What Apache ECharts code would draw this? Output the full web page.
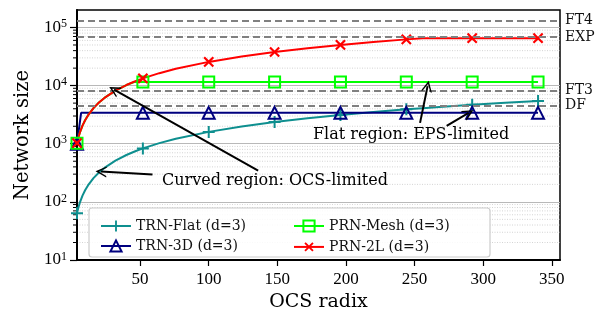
<!DOCTYPE html>
<html>
<head>
<meta charset="utf-8">
<script src="https://cdn.jsdelivr.net/npm/echarts@6/dist/echarts.min.js"></script>
<style>html,body{margin:0;padding:0;background:#fff}#chart{width:605px;height:318px}</style>
</head>
<body>
<div id="chart"></div>
<script>
// radix points for the curves
const radix = [4, 5, 6, 8, 10, 12, 16, 20, 24, 32, 40, 46, 52, 64, 76, 100, 124, 148, 172, 196, 220, 244, 256, 268, 292, 316, 340];
const trnFlat = [64, 80, 96, 128, 160, 192, 256, 320, 384, 512, 640, 736, 832, 1024, 1216, 1600, 1984, 2368, 2752, 3136, 3520, 3904, 4096, 4288, 4672, 5056, 5440];
const prnMesh = [1024, 1280, 1536, 2048, 2560, 3072, 4096, 5120, 6144, 8192, 10240, 11600, 11600, 11600, 11600, 11600, 11600, 11600, 11600, 11600, 11600, 11600, 11600, 11600, 11600, 11600, 11600];
const prn2L = [1024, 1280, 1536, 2048, 2560, 3072, 4096, 5120, 6144, 8192, 10240, 11776, 13312, 16384, 19456, 25600, 31744, 37888, 44032, 50176, 56320, 62464, 65536, 65536, 65536, 65536, 65536];
const trn3dRadix = [4, 7, 52, 100, 148, 196, 244, 292, 340];
const trn3d = [1000, 3400, 3400, 3400, 3400, 3400, 3400, 3400, 3400];
const markerRadix = [4, 52, 100, 148, 196, 244, 292, 340];

const refNames = ['FT4', 'EXP', 'FT3', 'DF'];
const refValues = [131072, 68000, 8192, 4500];

const xTicks = [50, 100, 150, 200, 250, 300, 350];
const yTicks = [10, 100, 1000, 10000, 100000];
const xMin = 4, xMax = 356, yMin = 10, yMax = 200000;

const FONT = '"DejaVu Serif", serif';
const NUMFONT = '"Liberation Serif", serif';
const plusPath = 'path://M5,0h2v5h5v2h-5v5h-2v-5h-5v-2h5z';
const arrowPath = 'path://M0,12L6,0L12,12L10.4,12L6,3.6L1.6,12Z';

// minor log grid values 2..9 per decade
const minorValues = [];
yTicks.forEach(function (d) {
  for (let k = 2; k <= 9; k++) {
    if (d * k < yMax) minorValues.push(d * k);
  }
});

function pts(xs, ys) {
  return xs.map(function (x, i) {
    const item = { value: [x, ys[i]] };
    if (markerRadix.indexOf(x) < 0) item.symbol = 'none';
    return item;
  });
}

function arrow(from, to) {
  return [{ coord: from, symbol: 'none' }, { coord: to, symbol: arrowPath }];
}

const chart = echarts.init(document.getElementById('chart'));

const option = {
  animation: false,
  backgroundColor: '#fff',
  textStyle: { fontFamily: FONT },
  grid: { left: 77, right: 45, top: 10, bottom: 58, show: true, borderColor: '#000', borderWidth: 1.5, backgroundColor: 'transparent' },
  xAxis: {
    type: 'value', min: xMin, max: xMax,
    name: 'OCS radix', nameLocation: 'middle', nameGap: 32,
    nameTextStyle: { fontFamily: FONT, fontSize: 19, color: '#000' },
    axisLine: { lineStyle: { color: '#000', width: 2 } },
    axisTick: { show: true, length: 6, inside: false, customValues: xTicks, lineStyle: { color: '#000', width: 1.2 } },
    axisLabel: { customValues: xTicks, margin: 11, fontFamily: NUMFONT, fontSize: 17, color: '#000' },
    splitLine: { show: false }
  },
  yAxis: {
    type: 'log', logBase: 10, min: yMin, max: yMax,
    name: 'Network size', nameLocation: 'middle', nameGap: 36,
    nameTextStyle: { fontFamily: FONT, fontSize: 19.5, color: '#000' },
    axisLine: { show: true, lineStyle: { color: '#000', width: 2 } },
    axisTick: { show: true, length: 7, customValues: yTicks, lineStyle: { color: '#000', width: 1.2 } },
    axisLabel: {
      customValues: yTicks, margin: 10, color: '#000',
      formatter: function (v) { return '{b|10}{s|' + Math.round(Math.log10(v)) + '}'; },
      rich: {
        b: { fontFamily: NUMFONT, fontSize: 17, color: '#000', lineHeight: 19 },
        s: { fontFamily: NUMFONT, fontSize: 12, color: '#000', verticalAlign: 'top', lineHeight: 12 }
      }
    },
    splitLine: { show: true, lineStyle: { color: '#b8b8b8', width: 1 } }
  },
  legend: [
    {
      data: ['TRN-Flat (d=3)', 'TRN-3D (d=3)'], orient: 'vertical', left: 95, top: 214,
      itemWidth: 30, itemHeight: 14, itemGap: 6, z: 10,
      textStyle: { fontFamily: FONT, fontSize: 14, color: '#111' }
    },
    {
      data: ['PRN-Mesh (d=3)', 'PRN-2L (d=3)'], orient: 'vertical', left: 288, top: 214,
      itemWidth: 30, itemHeight: 14, itemGap: 6, z: 10,
      textStyle: { fontFamily: FONT, fontSize: 14, color: '#111' }
    }
  ],
  graphic: [
    { type: 'rect', z: 5, shape: { x: 89, y: 208, width: 401, height: 49, r: 3 },
      style: { fill: 'rgba(255,255,255,0.85)', stroke: '#cccccc', lineWidth: 1.2 } },
    { type: 'text', z: 6, left: 162, top: 173,
      style: { text: 'Curved region: OCS-limited', font: '16px ' + FONT, fill: '#000' } },
    { type: 'text', z: 6, left: 313, top: 127,
      style: { text: 'Flat region: EPS-limited', font: '16px ' + FONT, fill: '#000' } }
  ],
  series: [
    {
      type: 'custom', name: 'minor', silent: true, z: 0,
      data: minorValues.map(function (v) { return [xMin, v]; }),
      renderItem: function (params, api) {
        const v = api.value(1);
        const p0 = api.coord([xMin, v]);
        const p1 = api.coord([xMax, v]);
        return {
          type: 'group',
          children: [
            { type: 'line', shape: { x1: p0[0], y1: p0[1], x2: p1[0], y2: p1[1] },
              style: { stroke: '#cfcfcf', lineWidth: 0.9, lineDash: [1, 1.5] } },
            { type: 'line', shape: { x1: p0[0] - 4, y1: p0[1], x2: p0[0], y2: p0[1] },
              style: { stroke: '#000', lineWidth: 1 } }
          ]
        };
      }
    },
    {
      type: 'line', name: 'refs', data: [], z: 1, silent: true,
      markLine: {
        silent: true, symbol: 'none',
        lineStyle: { color: '#808080', width: 2, type: [7, 4] },
        label: { show: true, position: 'end', formatter: '{b}', distance: 5, fontFamily: FONT, fontSize: 14, color: '#111' },
        data: refNames.map(function (n, i) { return { name: n, yAxis: refValues[i] }; })
      }
    },
    {
      type: 'line', name: 'TRN-Flat (d=3)', data: pts(radix, trnFlat),
      symbol: plusPath, symbolSize: 12, showAllSymbol: true,
      lineStyle: { color: '#0e8f8f', width: 2 },
      itemStyle: { color: '#0e8f8f' }
    },
    {
      type: 'line', name: 'TRN-3D (d=3)', data: pts(trn3dRadix, trn3d),
      symbol: 'triangle', symbolSize: 12, showAllSymbol: true,
      lineStyle: { color: '#00007f', width: 2 },
      itemStyle: { color: 'rgba(255,255,255,0)', borderColor: '#00007f', borderWidth: 2 }
    },
    {
      type: 'line', name: 'PRN-Mesh (d=3)', data: pts(radix, prnMesh),
      symbol: 'rect', symbolSize: 11, showAllSymbol: true,
      lineStyle: { color: '#00ff00', width: 2 },
      itemStyle: { color: 'rgba(255,255,255,0)', borderColor: '#00ff00', borderWidth: 2 }
    },
    {
      type: 'line', name: 'PRN-2L (d=3)', data: pts(radix, prn2L),
      symbol: plusPath, symbolRotate: 45, symbolSize: 13, showAllSymbol: true,
      lineStyle: { color: '#ff0000', width: 2 },
      itemStyle: { color: '#ff0000' }
    },
    {
      type: 'line', name: 'notes', data: [], z: 4, silent: true,
      markLine: {
        silent: true, symbolSize: 11,
        lineStyle: { color: '#000', width: 2, type: 'solid' },
        label: { show: false },
        data: [
          arrow([136, 345], [31, 8500]),
          arrow([59, 295], [21.5, 332]),
          arrow([254, 2285], [259.5, 9800]),
          arrow([273.4, 2030], [289.4, 3390])
        ]
      }
    }
  ]
};

chart.setOption(option);
</script>
</body>
</html>
